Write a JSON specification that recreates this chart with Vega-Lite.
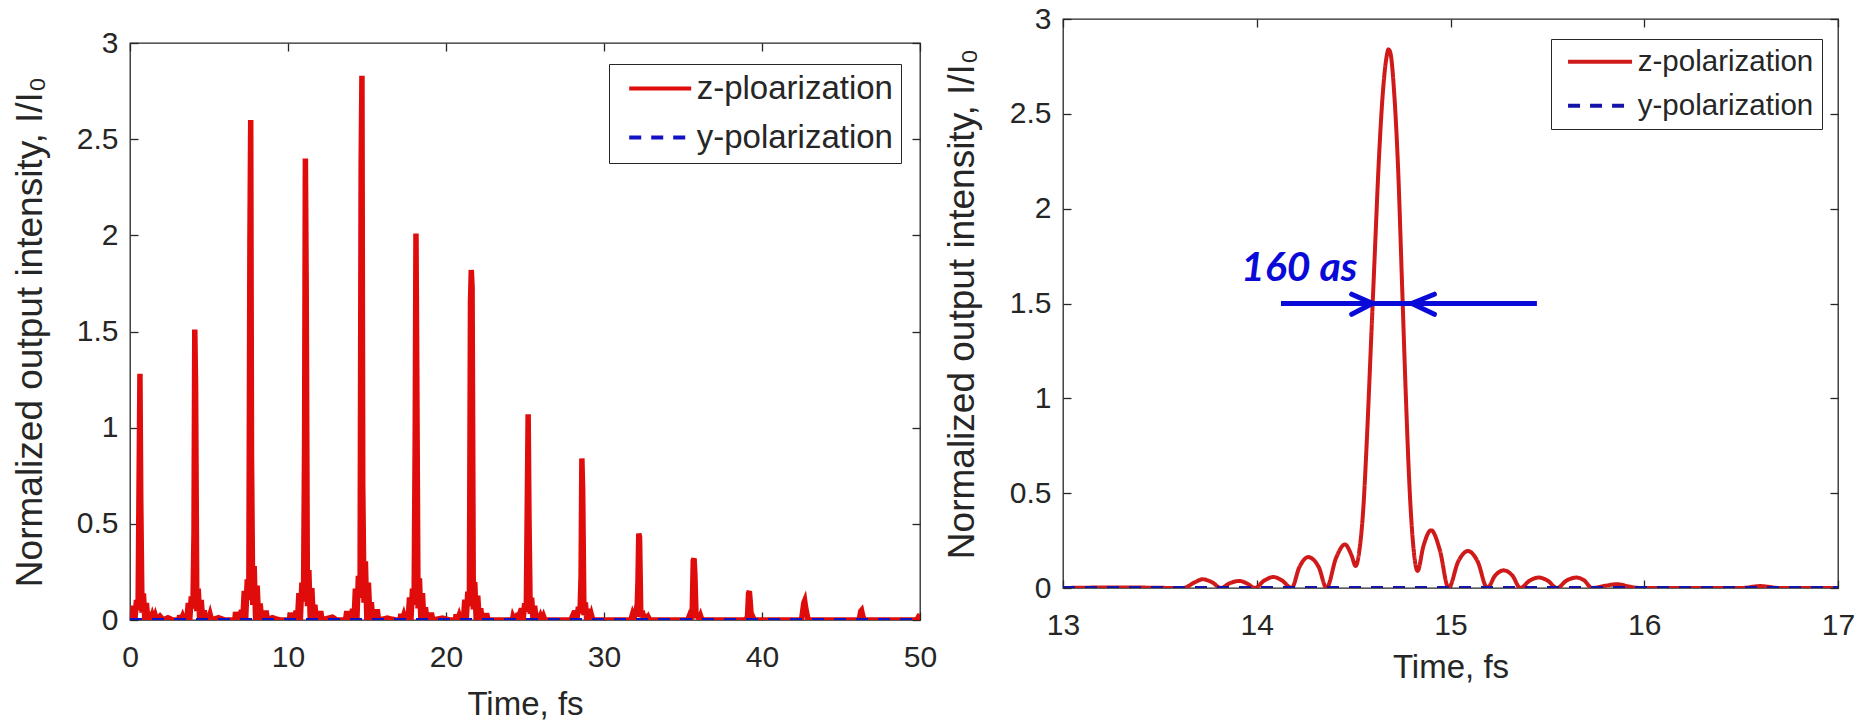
{
  "$schema": "https://vega.github.io/schema/vega-lite/v6.json",
  "background": "white",
  "padding": {"left": 10, "top": 3, "right": 0, "bottom": 0},
  "spacing": 4,
  "config": {
    "font": "Liberation Sans",
    "view": {"stroke": "#262626", "strokeWidth": 1.3},
    "axis": {
      "domain": false, "grid": false,
      "tickColor": "#262626", "tickWidth": 1.3, "tickSize": -8,
      "labelFont": "Liberation Sans", "labelFontSize": 30, "labelColor": "#262626",
      "labelFlush": false, "labelOverlap": false,
      "titleFont": "Liberation Sans", "titleFontWeight": "normal", "titleColor": "#262626"
    },
    "axisX": {"labelPadding": 30, "titleFontSize": 33},
    "axisY": {"labelPadding": 20, "titleFontSize": 37},
    "legend": {
      "orient": "none", "title": null,
      "strokeColor": "#262626", "fillColor": "white",
      "padding": 8, "labelFont": "Liberation Sans", "labelColor": "#262626",
      "symbolType": "M-3,0H3", "symbolStrokeWidth": 4,
      "labelLimit": 500
    }
  },
  "resolve": {
    "scale": {"color": "independent", "strokeDash": "independent"},
    "legend": {"color": "independent", "strokeDash": "independent"}
  },
  "datasets": {
    "zl": [
      {"t":0,"v":0.005},
      {"t":0.04,"v":0.026},{"t":0.13,"v":0},{"t":0.22,"v":0.074},{"t":0.31,"v":0},{"t":0.41,"v":0.104},{"t":0.51,"v":0.051},{"t":0.58,"v":0.77},{"t":0.63,"v":1.28},{"t":0.68,"v":0.63},{"t":0.76,"v":0.038},{"t":0.85,"v":0.138},{"t":0.94,"v":0},{"t":1.04,"v":0.088},{"t":1.13,"v":0},{"t":1.23,"v":0.042},{"t":1.32,"v":0},{"t":1.41,"v":0.024},{"t":1.5,"v":0},{"t":1.6,"v":0.024},{"t":1.69,"v":0},{"t":1.9,"v":0.02},{"t":2.1,"v":0},{"t":2.4,"v":0.012},{"t":2.7,"v":0},
      {"t":3.1,"v":0},{"t":3.14,"v":0.024},{"t":3.23,"v":0},{"t":3.33,"v":0.02},{"t":3.42,"v":0},{"t":3.51,"v":0.03},{"t":3.6,"v":0},{"t":3.69,"v":0.088},{"t":3.78,"v":0},{"t":3.88,"v":0.122},{"t":3.98,"v":0.06},{"t":4.05,"v":0.45},{"t":4.1,"v":1.51},{"t":4.15,"v":1.22},{"t":4.23,"v":0.045},{"t":4.32,"v":0.163},{"t":4.41,"v":0},{"t":4.51,"v":0.104},{"t":4.6,"v":0},{"t":4.7,"v":0.05},{"t":4.79,"v":0},{"t":4.88,"v":0.029},{"t":4.97,"v":0},{"t":5.07,"v":0.029},{"t":5.16,"v":0},{"t":5.6,"v":0.012},{"t":6.0,"v":0},
      {"t":6.64,"v":0},{"t":6.68,"v":0.042},{"t":6.77,"v":0},{"t":6.87,"v":0.034},{"t":6.96,"v":0},{"t":7.05,"v":0.052},{"t":7.14,"v":0},{"t":7.23,"v":0.151},{"t":7.32,"v":0},{"t":7.42,"v":0.211},{"t":7.52,"v":0.104},{"t":7.59,"v":1.96},{"t":7.64,"v":2.6},{"t":7.69,"v":0.86},{"t":7.77,"v":0.078},{"t":7.86,"v":0.281},{"t":7.95,"v":0},{"t":8.05,"v":0.179},{"t":8.14,"v":0},{"t":8.24,"v":0.086},{"t":8.33,"v":0},{"t":8.42,"v":0.049},{"t":8.51,"v":0},{"t":8.61,"v":0.049},{"t":8.7,"v":0},{"t":9.0,"v":0.012},{"t":9.5,"v":0},
      {"t":10.1,"v":0},{"t":10.14,"v":0.038},{"t":10.23,"v":0},{"t":10.33,"v":0.031},{"t":10.42,"v":0},{"t":10.51,"v":0.048},{"t":10.6,"v":0},{"t":10.69,"v":0.139},{"t":10.78,"v":0},{"t":10.88,"v":0.194},{"t":10.98,"v":0.096},{"t":11.05,"v":0.91},{"t":11.1,"v":2.4},{"t":11.15,"v":1.75},{"t":11.23,"v":0.072},{"t":11.32,"v":0.259},{"t":11.41,"v":0},{"t":11.51,"v":0.166},{"t":11.6,"v":0},{"t":11.7,"v":0.079},{"t":11.79,"v":0},{"t":11.88,"v":0.046},{"t":11.97,"v":0},{"t":12.07,"v":0.046},{"t":12.16,"v":0},{"t":12.8,"v":0.015},{"t":13.1,"v":0},
      {"t":13.64,"v":0},{"t":13.72,"v":0.046},{"t":13.815,"v":0},{"t":13.91,"v":0.037},{"t":13.99,"v":0},{"t":14.085,"v":0.058},{"t":14.18,"v":0},{"t":14.265,"v":0.163},{"t":14.36,"v":0},{"t":14.455,"v":0.23},{"t":14.56,"v":0.116},{"t":14.63,"v":2.37},{"t":14.68,"v":2.83},{"t":14.73,"v":0.71},{"t":14.81,"v":0.09},{"t":14.9,"v":0.305},{"t":14.99,"v":0},{"t":15.09,"v":0.195},{"t":15.19,"v":0},{"t":15.275,"v":0.093},{"t":15.36,"v":0},{"t":15.455,"v":0.055},{"t":15.55,"v":0},{"t":15.65,"v":0.055},{"t":15.73,"v":0},{"t":16.3,"v":0.01},{"t":16.8,"v":0},
      {"t":17.1,"v":0},{"t":17.14,"v":0.032},{"t":17.23,"v":0},{"t":17.33,"v":0.026},{"t":17.42,"v":0},{"t":17.51,"v":0.04},{"t":17.6,"v":0},{"t":17.69,"v":0.117},{"t":17.78,"v":0},{"t":17.88,"v":0.163},{"t":17.98,"v":0.08},{"t":18.05,"v":0.94},{"t":18.1,"v":2.01},{"t":18.15,"v":1.28},{"t":18.23,"v":0.06},{"t":18.32,"v":0.217},{"t":18.41,"v":0},{"t":18.51,"v":0.139},{"t":18.6,"v":0},{"t":18.7,"v":0.066},{"t":18.79,"v":0},{"t":18.88,"v":0.038},{"t":18.97,"v":0},{"t":19.07,"v":0.038},{"t":19.16,"v":0},{"t":19.8,"v":0.01},{"t":20.2,"v":0},
      {"t":20.6,"v":0},{"t":20.64,"v":0.029},{"t":20.73,"v":0},{"t":20.83,"v":0.024},{"t":20.92,"v":0},{"t":21.01,"v":0.036},{"t":21.1,"v":0},{"t":21.19,"v":0.106},{"t":21.28,"v":0},{"t":21.38,"v":0.147},{"t":21.48,"v":0.073},{"t":21.55,"v":1.65},{"t":21.6,"v":1.82},{"t":21.65,"v":1.73},{"t":21.73,"v":0.055},{"t":21.82,"v":0.197},{"t":21.91,"v":0},{"t":22.01,"v":0.126},{"t":22.1,"v":0},{"t":22.2,"v":0.06},{"t":22.29,"v":0},{"t":22.38,"v":0.035},{"t":22.47,"v":0},{"t":22.57,"v":0.035},{"t":22.66,"v":0},
      {"t":24.2,"v":0},{"t":24.24,"v":0.017},{"t":24.33,"v":0},{"t":24.43,"v":0.014},{"t":24.52,"v":0},{"t":24.61,"v":0.021},{"t":24.7,"v":0},{"t":24.79,"v":0.062},{"t":24.88,"v":0},{"t":24.98,"v":0.087},{"t":25.08,"v":0.043},{"t":25.15,"v":0.65},{"t":25.2,"v":1.07},{"t":25.25,"v":0.54},{"t":25.33,"v":0.032},{"t":25.42,"v":0.116},{"t":25.51,"v":0},{"t":25.61,"v":0.074},{"t":25.7,"v":0},{"t":25.8,"v":0.035},{"t":25.89,"v":0},{"t":25.98,"v":0.02},{"t":26.07,"v":0},{"t":26.17,"v":0.02},{"t":26.26,"v":0},
      {"t":27.9,"v":0},{"t":27.99,"v":0.017},{"t":28.08,"v":0},{"t":28.19,"v":0.049},{"t":28.28,"v":0},{"t":28.38,"v":0.068},{"t":28.48,"v":0.034},{"t":28.55,"v":0.23},{"t":28.6,"v":0.84},{"t":28.65,"v":0.67},{"t":28.73,"v":0.025},{"t":28.82,"v":0.091},{"t":28.91,"v":0},{"t":29.01,"v":0.058},{"t":29.1,"v":0},{"t":29.2,"v":0.028},{"t":29.29,"v":0},
      {"t":31.7,"v":0},{"t":31.79,"v":0.026},{"t":31.88,"v":0},{"t":31.98,"v":0.036},{"t":32.08,"v":0.018},{"t":32.15,"v":0.2},{"t":32.2,"v":0.45},{"t":32.25,"v":0.43},{"t":32.33,"v":0.014},{"t":32.42,"v":0.049},{"t":32.51,"v":0},{"t":32.61,"v":0.031},{"t":32.7,"v":0},{"t":32.8,"v":0.015},{"t":32.89,"v":0},
      {"t":35.3,"v":0},{"t":35.39,"v":0.019},{"t":35.48,"v":0},{"t":35.58,"v":0.026},{"t":35.65,"v":0.31},{"t":35.7,"v":0.32},{"t":35.75,"v":0.24},{"t":35.83,"v":0.01},{"t":35.92,"v":0.035},{"t":36.01,"v":0},{"t":36.11,"v":0.022},{"t":36.2,"v":0},
      {"t":38.9,"v":0},{"t":39.08,"v":0.012},{"t":39.15,"v":0.14},{"t":39.2,"v":0.15},{"t":39.25,"v":0.1},{"t":39.33,"v":0.005},{"t":39.42,"v":0.016},{"t":39.51,"v":0},
      {"t":42.5,"v":0},{"t":42.65,"v":0.09},{"t":42.7,"v":0.1},{"t":42.75,"v":0.07},{"t":42.9,"v":0.008},{"t":43.0,"v":0},
      {"t":46.15,"v":0},{"t":46.25,"v":0.045},{"t":46.3,"v":0.05},{"t":46.35,"v":0.03},{"t":46.45,"v":0},
      {"t":49.8,"v":0},{"t":50,"v":0.03}
    ],
    "yl": [{"t":0,"v":0},{"t":50,"v":0}],
    "zr": [
      {"t":13,"v":0},{"t":13.3,"v":0.003},{"t":13.62,"v":0},{"t":13.68,"v":0.03},{"t":13.72,"v":0.046},{"t":13.77,"v":0.03},{"t":13.815,"v":0},{"t":13.86,"v":0.025},{"t":13.91,"v":0.037},{"t":13.95,"v":0.024},{"t":13.99,"v":0},{"t":14.04,"v":0.04},{"t":14.085,"v":0.058},{"t":14.13,"v":0.04},{"t":14.18,"v":0},{"t":14.22,"v":0.11},{"t":14.265,"v":0.163},{"t":14.32,"v":0.11},{"t":14.36,"v":0},{"t":14.41,"v":0.16},{"t":14.455,"v":0.23},{"t":14.49,"v":0.17},{"t":14.51,"v":0.116},{"t":14.53,"v":0.2},{"t":14.55,"v":0.42},{"t":14.57,"v":0.82},{"t":14.59,"v":1.3},{"t":14.61,"v":1.78},{"t":14.63,"v":2.25},{"t":14.65,"v":2.6},{"t":14.67,"v":2.8},{"t":14.68,"v":2.84},{"t":14.69,"v":2.82},{"t":14.71,"v":2.6},{"t":14.73,"v":2.2},{"t":14.75,"v":1.6},{"t":14.77,"v":1.0},{"t":14.79,"v":0.5},{"t":14.81,"v":0.2},{"t":14.83,"v":0.09},{"t":14.86,"v":0.22},{"t":14.9,"v":0.305},{"t":14.945,"v":0.2},{"t":14.99,"v":0},{"t":15.04,"v":0.14},{"t":15.09,"v":0.195},{"t":15.14,"v":0.14},{"t":15.19,"v":0},{"t":15.23,"v":0.065},{"t":15.275,"v":0.093},{"t":15.32,"v":0.065},{"t":15.36,"v":0},{"t":15.41,"v":0.04},{"t":15.455,"v":0.055},{"t":15.5,"v":0.04},{"t":15.55,"v":0},{"t":15.6,"v":0.04},{"t":15.65,"v":0.055},{"t":15.69,"v":0.04},{"t":15.73,"v":0},{"t":15.8,"v":0.012},{"t":15.86,"v":0.02},{"t":15.92,"v":0.008},{"t":15.98,"v":0},{"t":16.5,"v":0},{"t":16.6,"v":0.01},{"t":16.7,"v":0},{"t":17,"v":0}
    ],
    "yr": [{"t":13,"v":0},{"t":17,"v":0}],
    "arrowLine": [{"t":14.125,"v":1.5},{"t":15.446,"v":1.5}],
    "arrowHeads": [
      {"g":"L","k":0,"t":14.49,"v":1.549},{"g":"L","k":1,"t":14.598,"v":1.5},{"g":"L","k":2,"t":14.49,"v":1.443},
      {"g":"R","k":0,"t":14.917,"v":1.549},{"g":"R","k":1,"t":14.8,"v":1.5},{"g":"R","k":2,"t":14.917,"v":1.443}
    ],
    "note": [{"t":13.919,"v":1.619,"label":"160 as"}],
    "blank": [{"t":0}]
  },
  "hconcat": [
    {
      "spacing": 0,
      "resolve": {
        "scale": {"color": "independent", "strokeDash": "independent"},
        "legend": {"color": "independent", "strokeDash": "independent"}
      },
      "vconcat": [
        {
          "width": 790, "height": 6,
          "view": {"fill": "white", "stroke": null},
          "data": {"name": "blank"},
          "mark": {"type": "text", "text": ""},
          "encoding": {}
        },
        {
          "width": 790, "height": 577,
          "resolve": {"axis": {"x": "independent", "y": "independent"}},
          "layer": [
            {
              "data": {"name": "zl"},
              "mark": {"type": "line", "clip": true, "strokeWidth": 5.5, "strokeJoin": "miter"},
              "encoding": {
                "x": {"field": "t", "type": "quantitative", "scale": {"domain": [0, 50], "nice": false, "zero": false},
                      "axis": {"values": [0, 10, 20, 30, 40, 50], "format": "~r", "title": "Time, fs", "titlePadding": 16}},
                "y": {"field": "v", "type": "quantitative", "scale": {"domain": [0, 3], "nice": false},
                      "axis": {"values": [0, 0.5, 1, 1.5, 2, 2.5, 3], "format": "~r", "title": "Normalized output intensity, I/I₀", "titlePadding": 27}},
                "color": {"datum": "z-ploarization", "type": "nominal",
                          "scale": {"domain": ["z-ploarization", "y-polarization"], "range": ["#e00b0b", "#1212c4"]},
                          "legend": {"legendX": 479, "legendY": 21, "labelFontSize": 33, "rowPadding": 15, "symbolSize": 427, "symbolOffset": 26.7, "labelOffset": 20}},
                "strokeDash": {"datum": "z-ploarization", "type": "nominal",
                          "scale": {"domain": ["z-ploarization", "y-polarization"], "range": [[1, 0], [12, 10]]},
                          "legend": {"legendX": 479, "legendY": 21, "labelFontSize": 33, "rowPadding": 15, "symbolSize": 427, "symbolOffset": 26.7, "labelOffset": 20}}
              }
            },
            {
              "data": {"name": "yl"},
              "mark": {"type": "line", "clip": true, "strokeWidth": 4},
              "encoding": {
                "x": {"field": "t", "type": "quantitative", "scale": {"domain": [0, 50], "nice": false, "zero": false},
                      "axis": {"orient": "top", "values": [0, 10, 20, 30, 40, 50], "labels": false, "title": null}},
                "y": {"field": "v", "type": "quantitative", "scale": {"domain": [0, 3], "nice": false},
                      "axis": {"orient": "right", "values": [0, 0.5, 1, 1.5, 2, 2.5, 3], "labels": false, "title": null}},
                "color": {"datum": "y-polarization", "type": "nominal"},
                "strokeDash": {"datum": "y-polarization", "type": "nominal"}
              }
            }
          ]
        }
      ]
    },
    {
      "width": 775, "height": 569,
      "resolve": {"axis": {"x": "independent", "y": "independent"}},
      "layer": [
        {
          "data": {"name": "zr"},
          "mark": {"type": "line", "clip": true, "strokeWidth": 4, "interpolate": "monotone"},
          "encoding": {
            "x": {"field": "t", "type": "quantitative", "scale": {"domain": [13, 17], "nice": false, "zero": false},
                  "axis": {"values": [13, 14, 15, 16, 17], "format": "~r", "title": "Time, fs", "titlePadding": 11}},
            "y": {"field": "v", "type": "quantitative", "scale": {"domain": [0, 3], "nice": false},
                  "axis": {"values": [0, 0.5, 1, 1.5, 2, 2.5, 3], "format": "~r", "title": "Normalized output intensity, I/I₀", "titlePadding": 28}},
            "color": {"datum": "z-polarization", "type": "nominal",
                      "scale": {"domain": ["z-polarization", "y-polarization"], "range": ["#d01a1a", "#1414a8"]},
                      "legend": {"legendX": 488, "legendY": 20, "labelFontSize": 29.5, "rowPadding": 13, "symbolSize": 455, "symbolOffset": 26.3, "labelOffset": 23}},
            "strokeDash": {"datum": "z-polarization", "type": "nominal",
                      "scale": {"domain": ["z-polarization", "y-polarization"], "range": [[1, 0], [12, 10]]},
                      "legend": {"legendX": 488, "legendY": 20, "labelFontSize": 29.5, "rowPadding": 13, "symbolSize": 455, "symbolOffset": 26.3, "labelOffset": 23}}
          }
        },
        {
          "data": {"name": "yr"},
          "mark": {"type": "line", "clip": true, "strokeWidth": 4},
          "encoding": {
            "x": {"field": "t", "type": "quantitative", "scale": {"domain": [13, 17], "nice": false, "zero": false},
                  "axis": {"orient": "top", "values": [13, 14, 15, 16, 17], "labels": false, "title": null}},
            "y": {"field": "v", "type": "quantitative", "scale": {"domain": [0, 3], "nice": false},
                  "axis": {"orient": "right", "values": [0, 0.5, 1, 1.5, 2, 2.5, 3], "labels": false, "title": null}},
            "color": {"datum": "y-polarization", "type": "nominal"},
            "strokeDash": {"datum": "y-polarization", "type": "nominal"}
          }
        },
        {
          "data": {"name": "arrowLine"},
          "mark": {"type": "line", "color": "#0a0ad8", "strokeWidth": 5, "strokeCap": "butt"},
          "encoding": {
            "x": {"field": "t", "type": "quantitative", "scale": {"domain": [13, 17], "nice": false, "zero": false}, "axis": null},
            "y": {"field": "v", "type": "quantitative", "scale": {"domain": [0, 3], "nice": false}, "axis": null}
          }
        },
        {
          "data": {"name": "arrowHeads"},
          "mark": {"type": "line", "color": "#0a0ad8", "strokeWidth": 5, "strokeCap": "round", "strokeJoin": "miter"},
          "encoding": {
            "x": {"field": "t", "type": "quantitative", "scale": {"domain": [13, 17], "nice": false, "zero": false}, "axis": null},
            "y": {"field": "v", "type": "quantitative", "scale": {"domain": [0, 3], "nice": false}, "axis": null},
            "detail": {"field": "g", "type": "nominal"},
            "order": {"field": "k", "type": "quantitative"}
          }
        },
        {
          "data": {"name": "note"},
          "mark": {"type": "text", "color": "#0a0ad8", "font": "Lato", "fontSize": 41, "fontWeight": "bold", "fontStyle": "italic", "align": "left", "baseline": "alphabetic"},
          "encoding": {
            "x": {"field": "t", "type": "quantitative", "scale": {"domain": [13, 17], "nice": false, "zero": false}, "axis": null},
            "y": {"field": "v", "type": "quantitative", "scale": {"domain": [0, 3], "nice": false}, "axis": null},
            "text": {"field": "label"}
          }
        }
      ]
    }
  ]
}
